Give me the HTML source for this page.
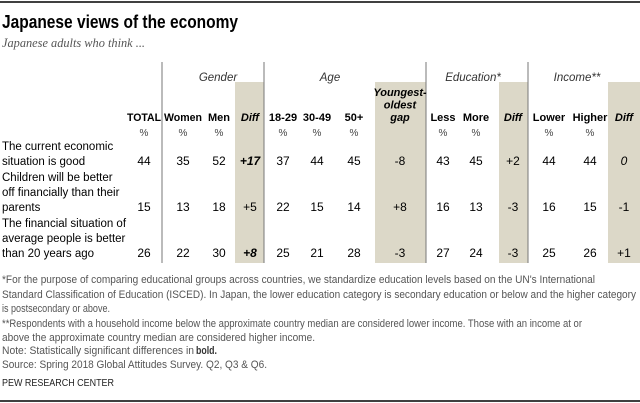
<!DOCTYPE html>
<html><head><meta charset="utf-8"><style>
body{margin:0;background:#fff;width:640px;height:403px;overflow:hidden}
svg{display:block}
text{font-family:"Liberation Sans",sans-serif}
</style></head><body>
<svg id="c" width="640" height="403">
<line x1="0" y1="2" x2="640" y2="2" stroke="#000" stroke-width="1.5"/>
<text x="2" y="28" font-size="18.5" font-weight="bold" textLength="236" lengthAdjust="spacingAndGlyphs">Japanese views of the economy</text>
<text x="2" y="47" font-size="12.5" font-style="italic" fill="#555" style="font-family:'Liberation Serif',serif" textLength="143" lengthAdjust="spacingAndGlyphs">Japanese adults who think ...</text>
<g id="g"></g>
<g fill="#555" font-size="11">
<text x="2" y="283" textLength="593" lengthAdjust="spacingAndGlyphs">*For the purpose of comparing educational groups across countries, we standardize education levels based on the UN's International</text>
<text x="2" y="298" textLength="634" lengthAdjust="spacingAndGlyphs">Standard Classification of Education (ISCED). In Japan, the lower education category is secondary education or below and the higher category</text>
<text x="2" y="312" textLength="108" lengthAdjust="spacingAndGlyphs">is postsecondary or above.</text>
<text x="2" y="327" textLength="580" lengthAdjust="spacingAndGlyphs">**Respondents with a household income below the approximate country median are considered lower income. Those with an income at or</text>
<text x="2" y="341" textLength="313" lengthAdjust="spacingAndGlyphs">above the approximate country median are considered higher income.</text>
<text x="2" y="354" textLength="192" lengthAdjust="spacingAndGlyphs">Note: Statistically significant differences in</text>
<text x="196" y="354" font-weight="bold" fill="#333" textLength="21" lengthAdjust="spacingAndGlyphs">bold.</text>
<text x="2" y="368" textLength="265" lengthAdjust="spacingAndGlyphs">Source: Spring 2018 Global Attitudes Survey. Q2, Q3 &amp; Q6.</text>
<text x="2" y="386" font-size="10.5" fill="#222" textLength="112" lengthAdjust="spacingAndGlyphs">PEW RESEARCH CENTER</text>
</g>
<line x1="0" y1="401" x2="640" y2="401" stroke="#000" stroke-width="1.5"/>
</svg>
<script>
const columns=["TOTAL","Women","Men","Diff","18-29","30-49","50+","gap","Less","More","Diff","Lower","Higher","Diff"];
const rowLabels=[["The current economic","situation is good"],["Children will be better","off financially than their","parents"],["The financial situation of","average people is better","than 20 years ago"]];
const row1=["44","35","52","+17","37","44","45","-8","43","45","+2","44","44","0"];
const row2=["15","13","18","+5","22","15","14","+8","16","13","-3","16","15","-1"];
const row3=["26","22","30","+8","25","21","28","-3","27","24","-3","25","26","+1"];
const boldCells=[[0,3],[2,3]];
const italicCells=[[0,3],[2,3],[0,13]];
const groups=[["Gender",218],["Age",330],["Education*",473],["Income**",577]];
const colX=[144,183,219,250,283,317,354,400,443,476,513,549,590,624];
const shaded=[[235,264],[375,426],[499,528],[608,640]];
const vlines=[162,264,426,528];
const NS="http://www.w3.org/2000/svg";
const g=document.getElementById('g');
function mk(tag,attrs,txt){const e=document.createElementNS(NS,tag);for(const k in attrs)e.setAttribute(k,attrs[k]);if(txt!==undefined)e.textContent=txt;g.appendChild(e);return e;}
shaded.forEach((s,i)=>{const r=mk('rect',{x:s[0],y:82,width:s[1]-s[0],height:181,fill:'#dcd8c8'});

});
vlines.forEach(x=>{const l=mk('line',{x1:x,y1:62,x2:x,y2:263,stroke:'#777','stroke-width':1});

});
groups.forEach(gr=>{const t=mk('text',{x:gr[1],y:81,'font-size':11.5,'font-style':'italic','text-anchor':'middle',fill:'#333'},gr[0]);

});
columns.forEach((c,i)=>{
 if(c==="gap"){
  ["Youngest-","oldest","gap"].forEach((w,j)=>{const t=mk('text',{x:colX[i],y:96+j*12.5,'font-size':11,'font-weight':'bold','font-style':'italic','text-anchor':'middle'},w);
  
  });
 } else {
  const it=c==="Diff";
  const t=mk('text',{x:colX[i],y:121,'font-size':11,'font-weight':'bold','font-style':it?'italic':'normal','text-anchor':'middle'},c);
  if(c==="TOTAL"){t.setAttribute('textLength','34');t.setAttribute('lengthAdjust','spacingAndGlyphs');}
  if(c==="Women"){t.setAttribute('textLength','38');t.setAttribute('lengthAdjust','spacingAndGlyphs');}
  
  
  if(!it){const p=mk('text',{x:colX[i],y:136,'font-size':10,'text-anchor':'middle',fill:'#444'},'%');
  
  }
 }
});
const rows=[row1,row2,row3];
const baseY=[165,211,257];
rows.forEach((row,r)=>{
 const lab=rowLabels[r];
 lab.forEach((ln,j)=>{const t=mk('text',{x:2,y:baseY[r]-(lab.length-1-j)*15,'font-size':11.5},ln);
 
 });
 row.forEach((v,i)=>{
  const b=boldCells.some(c=>c[0]===r&&c[1]===i), it=italicCells.some(c=>c[0]===r&&c[1]===i);
  const t=mk('text',{x:colX[i],y:baseY[r],'font-size':12,'text-anchor':'middle','font-weight':b?'bold':'normal','font-style':it?'italic':'normal'},v);
  
  
 });
});
</script>
</body></html>
